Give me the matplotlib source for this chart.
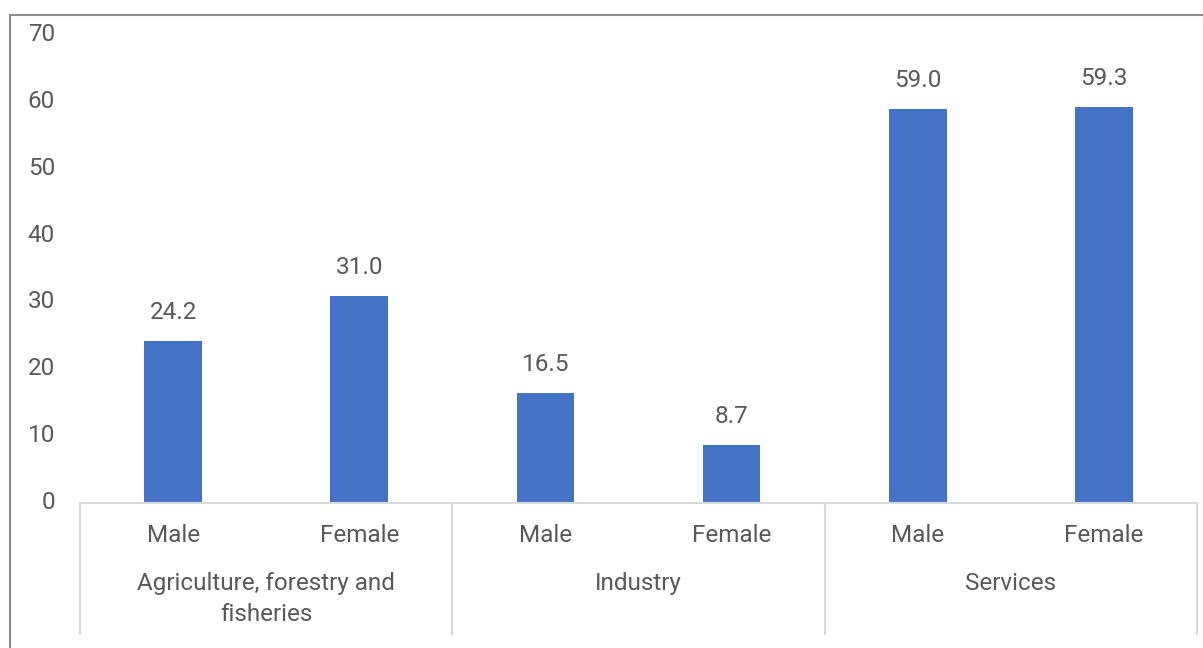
import matplotlib.pyplot as plt
from matplotlib.lines import Line2D
from matplotlib.transforms import ScaledTranslation

plt.rcParams['font.family'] = ['Roboto', 'DejaVu Sans']

# Share of employment by sector and sex (%)
sectors = ["Agriculture, forestry and\nfisheries", "Industry", "Services"]
sexes = ["Male", "Female"]
male = [24.2, 16.5, 59.0]
female = [31.0, 8.7, 59.3]

values = []
for m, f in zip(male, female):
    values += [m, f]
labels = sexes * len(sectors)
pos = list(range(len(values)))

text_col = "#595959"
fs = 17.5
fig = plt.figure(figsize=(12.03, 6.48), dpi=100)
ax = fig.add_axes([0.0665, 0.2238, 0.9285, 0.7222])

bars = ax.bar(pos, values, width=0.31, color="#4472C4")
for b, v in zip(bars, values):
    ax.annotate(f"{v:.1f}", (b.get_x() + b.get_width() / 2, v),
                xytext=(0, 15.8), textcoords="offset points",
                ha="center", va="baseline", fontsize=fs, color=text_col)

ax.set_xlim(-0.5, len(values) - 0.5)
ax.set_ylim(0, 70)
ax.set_yticks(range(0, 71, 10))
ax.tick_params(axis="y", length=0, pad=18, labelsize=fs, labelcolor=text_col)
# nudge the value labels on the y axis slightly upward
for lab in ax.get_yticklabels():
    lab.set_transform(lab.get_transform() + ScaledTranslation(0, 3 / 100, fig.dpi_scale_trans))
ax.set_xticks([])
for s in ["top", "right", "left"]:
    ax.spines[s].set_visible(False)
ax.spines["bottom"].set_color("#d9d9d9")
ax.spines["bottom"].set_linewidth(1.5)

# two-level category axis
trans = ax.get_xaxis_transform()
for p, lab in zip(pos, labels):
    ax.text(p, -0.0833, lab, transform=trans, ha="center", va="baseline",
            fontsize=fs, color=text_col)
for i, name in enumerate(sectors):
    ax.text(2 * i + 0.5, -0.147, name, transform=trans, ha="center", va="top",
            fontsize=fs, color=text_col, linespacing=1.45)
for x in range(-1, len(values), 2):
    ax.add_line(Line2D([x + 0.5, x + 0.5], [0, -0.28], transform=trans,
                       color="#d9d9d9", lw=1.5, clip_on=False))

# outer frame
fig.add_artist(Line2D([0.0083, 0.0083], [0, 0.977], transform=fig.transFigure,
                      color="#8c8c8c", lw=1.5))
fig.add_artist(Line2D([0.0083, 1], [0.977, 0.977], transform=fig.transFigure,
                      color="#8c8c8c", lw=1.5))

fig.savefig("out.png", dpi=100)
